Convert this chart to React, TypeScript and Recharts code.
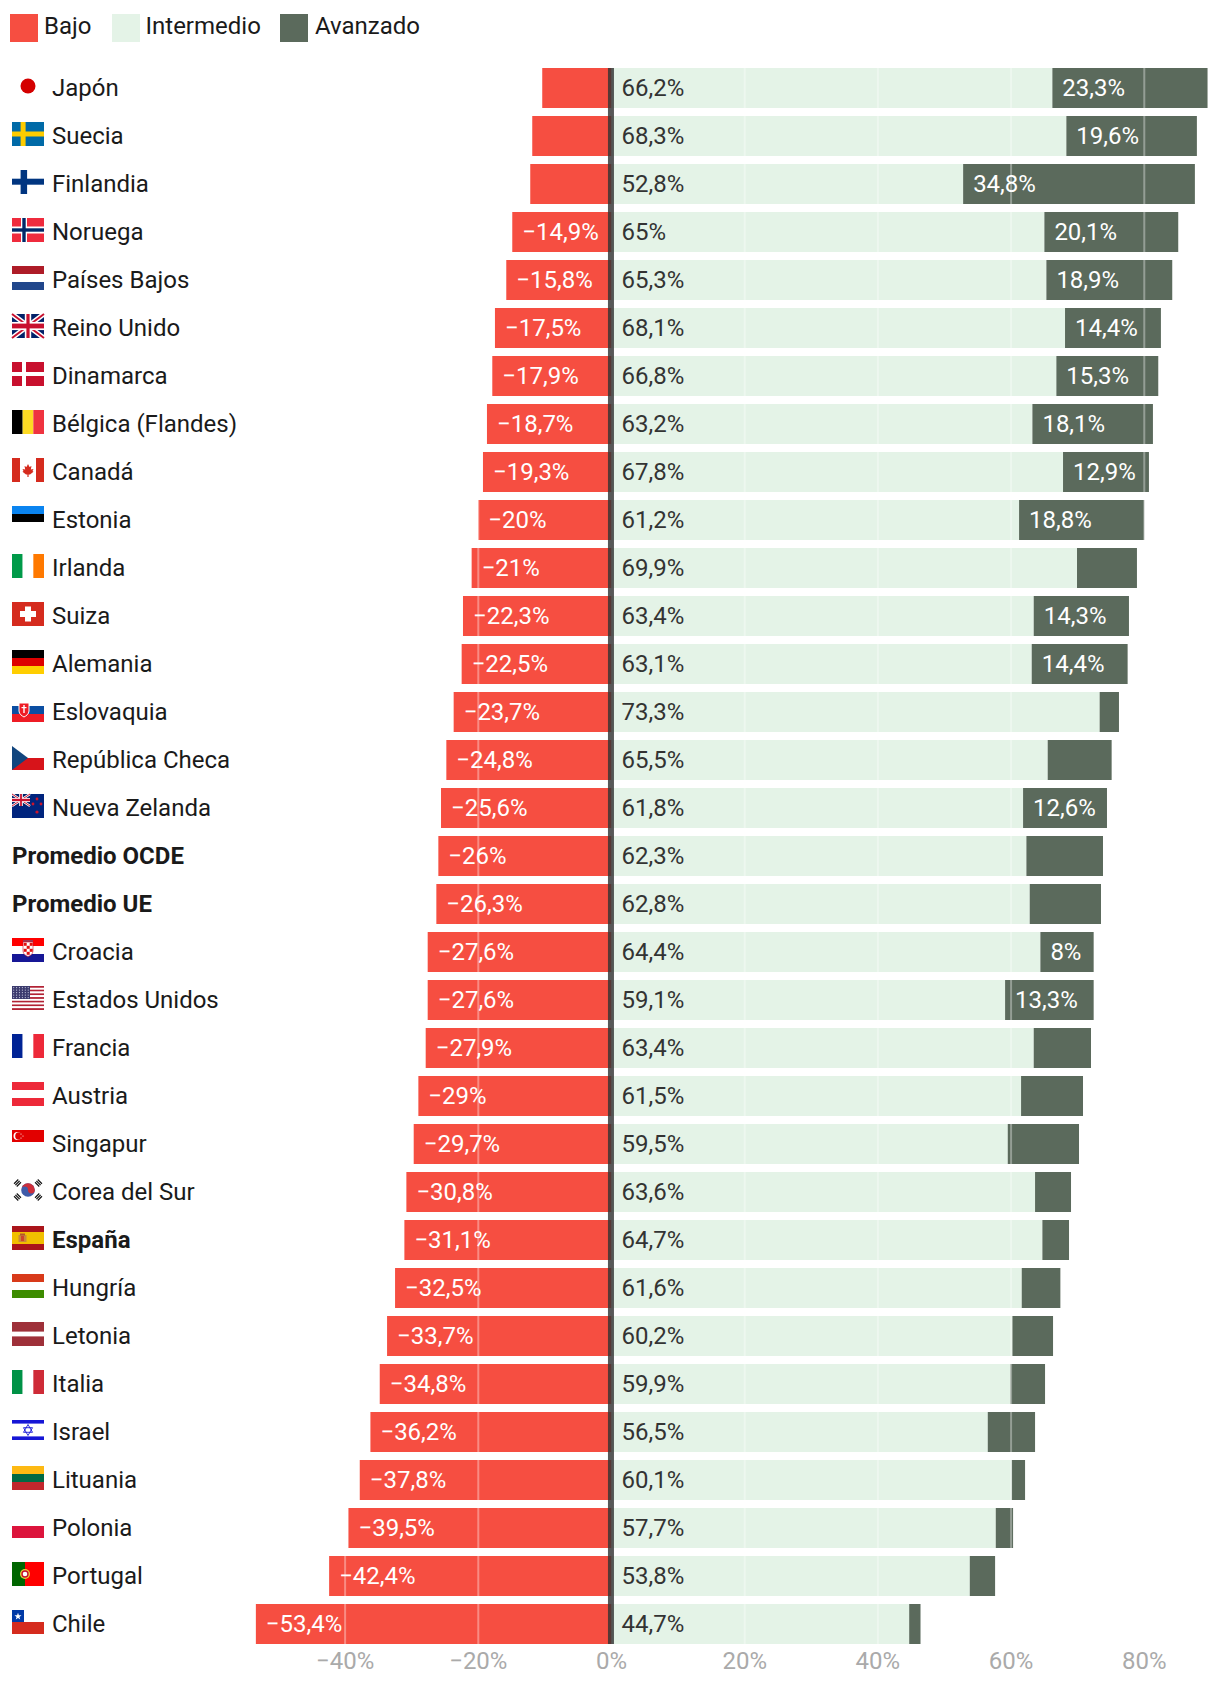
import { BarChart, Bar, XAxis, YAxis, ReferenceLine, LabelList } from "recharts";

const COUNTRIES = [
  "Japón", "Suecia", "Finlandia", "Noruega", "Países Bajos", "Reino Unido", "Dinamarca", "Bélgica (Flandes)",
  "Canadá", "Estonia", "Irlanda", "Suiza", "Alemania", "Eslovaquia", "República Checa", "Nueva Zelanda",
  "Promedio OCDE", "Promedio UE", "Croacia", "Estados Unidos", "Francia", "Austria", "Singapur", "Corea del Sur",
  "España", "Hungría", "Letonia", "Italia", "Israel", "Lituania", "Polonia", "Portugal", "Chile",
];
const BAJO = [
  -10.4, -11.9, -12.2, -14.9, -15.8, -17.5, -17.9, -18.7, -19.3, -20, -21, -22.3, -22.5, -23.7, -24.8, -25.6,
  -26, -26.3, -27.6, -27.6, -27.9, -29, -29.7, -30.8, -31.1, -32.5, -33.7, -34.8, -36.2, -37.8, -39.5, -42.4, -53.4,
];
const INTERMEDIO = [
  66.2, 68.3, 52.8, 65, 65.3, 68.1, 66.8, 63.2, 67.8, 61.2, 69.9, 63.4, 63.1, 73.3, 65.5, 61.8,
  62.3, 62.8, 64.4, 59.1, 63.4, 61.5, 59.5, 63.6, 64.7, 61.6, 60.2, 59.9, 56.5, 60.1, 57.7, 53.8, 44.7,
];
const AVANZADO = [
  23.3, 19.6, 34.8, 20.1, 18.9, 14.4, 15.3, 18.1, 12.9, 18.8, 9, 14.3, 14.4, 2.9, 9.6, 12.6,
  11.5, 10.7, 8, 13.3, 8.6, 9.3, 10.7, 5.4, 4, 5.8, 6.1, 5.2, 7.1, 2, 2.6, 3.8, 1.7,
];
// valores sin etiqueta en el original
const NO_LABEL_BAJO = ["Japón", "Suecia", "Finlandia"];
const LABELLED_AVANZADO = [
  "Japón", "Suecia", "Finlandia", "Noruega", "Países Bajos", "Reino Unido", "Dinamarca", "Bélgica (Flandes)",
  "Canadá", "Estonia", "Suiza", "Alemania", "Nueva Zelanda", "Croacia", "Estados Unidos",
];
const BOLD = ["Promedio OCDE", "Promedio UE", "España"];
const X_TICKS = [-40, -20, 0, 20, 40, 60, 80];

const RED = "#f64e41";
const GREEN = "#e4f3e7";
const DARK = "#5b6a5c";
const LEGEND = [
  { name: "Bajo", color: RED, left: 10, textLeft: 44 },
  { name: "Intermedio", color: GREEN, left: 112, textLeft: 145.5 },
  { name: "Avanzado", color: DARK, left: 280, textLeft: 315 },
];

const FONT = "Roboto, sans-serif";

const pct = (v: number) => `${String(v).replace(".", ",").replace("-", "\u2212")}%`;

const data = COUNTRIES.map((name, i) => ({
  name,
  bajo: BAJO[i],
  intermedio: INTERMEDIO[i],
  avanzado: AVANZADO[i],
  bajoLabel: NO_LABEL_BAJO.includes(name) ? null : pct(BAJO[i]),
  intermedioLabel: pct(INTERMEDIO[i]),
  avanzadoLabel: LABELLED_AVANZADO.includes(name) ? pct(AVANZADO[i]) : null,
}));

function BarLabel(props: any) {
  const { viewBox, value, textColor } = props;
  if (value == null || !viewBox) return null;
  const left = Math.min(viewBox.x, viewBox.x + viewBox.width);
  return (
    <text x={left + 10} y={viewBox.y + viewBox.height / 2} dy={8} style={{ fill: textColor }} fontSize={24} fontFamily={FONT}>
      {value}
    </text>
  );
}

const rect = (x: number, y: number, w: number, h: number, fill: string, key?: any) => (
  <rect key={key} x={x} y={y} width={w} height={h} fill={fill} />
);
const hStripes = (colors: string[]) => colors.map((c, i) => rect(0, (24 / colors.length) * i, 32, 24 / colors.length, c, i));
const vStripes = (colors: string[]) => colors.map((c, i) => rect((32 / colors.length) * i, 0, 32 / colors.length, 24, c, i));
const union = (w: number, h: number) => (
  <g>
    {rect(0, 0, w, h, "#012169")}
    <path d={`M0 0L${w} ${h}M${w} 0L0 ${h}`} stroke="#fff" strokeWidth={h / 5} />
    <path d={`M0 0L${w} ${h}M${w} 0L0 ${h}`} stroke="#c8102e" strokeWidth={h / 12} />
    {rect(w * 0.4, 0, w * 0.2, h, "#fff")}
    {rect(0, h * 0.33, w, h * 0.34, "#fff")}
    {rect(w * 0.45, 0, w * 0.1, h, "#c8102e")}
    {rect(0, h * 0.4, w, h * 0.2, "#c8102e")}
  </g>
);

const FLAGS: Record<string, () => any> = {
  "Japón": () => <circle cx={16} cy={12} r={7.5} fill="#d40000" />,
  "Suecia": () => (<>{rect(0, 0, 32, 24, "#006aa7")}{rect(8.6, 0, 5, 24, "#fecc00")}{rect(0, 9.5, 32, 5, "#fecc00")}</>),
  "Finlandia": () => (<>{rect(8.6, 0, 6.5, 24, "#003580")}{rect(0, 8.7, 32, 6, "#003580")}</>),
  "Noruega": () => (
    <>
      {rect(0, 0, 32, 24, "#ef2b3d")}
      {rect(9, 0, 6, 24, "#fff")}
      {rect(0, 8.5, 32, 7, "#fff")}
      {rect(10.3, 0, 3.4, 24, "#002868")}
      {rect(0, 10.3, 32, 3.4, "#002868")}
    </>
  ),
  "Países Bajos": () => hStripes(["#ae1c28", "#fff", "#21468b"]),
  "Reino Unido": () => union(32, 24),
  "Dinamarca": () => (<>{rect(0, 0, 32, 24, "#c8102e")}{rect(10, 0, 4, 24, "#fff")}{rect(0, 10, 32, 4, "#fff")}</>),
  "Bélgica (Flandes)": () => vStripes(["#000", "#fdda24", "#ef3340"]),
  "Canadá": () => (
    <>
      {rect(0, 0, 8, 24, "#d52b1e")}
      {rect(24, 0, 8, 24, "#d52b1e")}
      <path d="M16 6l1.500 3 2-1-.7 3.500 2.700-.5-1 2 1 .8-3.500 2.700h-1.400V19h-1.200v-2.500h-1.400L10.500 13.800l1-.8-1-2 2.700.5-.7-3.500 2 1z" fill="#d52b1e" />
    </>
  ),
  "Estonia": () => hStripes(["#0a84f0", "#000", "#fff"]),
  "Irlanda": () => vStripes(["#009a49", "#fff", "#ff7900"]),
  "Suiza": () => (<>{rect(0, 0, 32, 24, "#d52b1e")}{rect(13, 4.5, 6, 15, "#fff")}{rect(8, 9, 16, 6, "#fff")}</>),
  "Alemania": () => hStripes(["#000", "#dd0000", "#ffce00"]),
  "Eslovaquia": () => (
    <>
      {hStripes(["#fff", "#0b4ea2", "#ee1c25"])}
      <path d="M7 5h10v8c0 3-3 5-5 6-2-1-5-3-5-6z" fill="#ee1c25" stroke="#fff" strokeWidth={1} />
      {rect(11.3, 7, 1.4, 8, "#fff")}
      {rect(9.5, 9, 5, 1.2, "#fff")}
    </>
  ),
  "República Checa": () => (
    <>
      {rect(0, 12, 32, 12, "#d7141a")}
      <path d="M0 0L16 12L0 24z" fill="#11457e" />
    </>
  ),
  "Nueva Zelanda": () => (
    <>
      {rect(0, 0, 32, 24, "#00247d")}
      {union(18, 12)}
      <circle cx={25} cy={5} r={1.4} fill="#cc142b" />
      <circle cx={29} cy={10} r={1.4} fill="#cc142b" />
      <circle cx={21} cy={10} r={1.4} fill="#cc142b" />
      <circle cx={25} cy={18} r={1.6} fill="#cc142b" />
    </>
  ),
  "Croacia": () => (
    <>
      {hStripes(["#ff0000", "#fff", "#171796"])}
      <path d="M11 3.500h10v-1h-10z" fill="#3c6ea8" />
      <path d="M11 4h10v9c0 3-3 5-5 5.500-2-.5-5-2.500-5-5.500z" fill="#fff" stroke="#c8102e" strokeWidth={0.6} />
      {[0, 1, 2, 3].map((r) => [0, 1, 2].map((c) => (r + c) % 2 === 0 && rect(11.7 + c * 3, 4.8 + r * 3, 3, 3, "#e01010", `${r}-${c}`)))}
    </>
  ),
  "Estados Unidos": () => (
    <>
      {Array.from({ length: 13 }).map((_, i) => rect(0, (24 / 13) * i, 32, 24 / 13, i % 2 ? "#fff" : "#b22234", i))}
      {rect(0, 0, 18, 13, "#3c3b6e")}
      {[0, 1, 2, 3, 4].map((r) => [0, 1, 2, 3, 4, 5].map((c) => <circle key={`${r}-${c}`} cx={1.7 + c * 2.9} cy={1.6 + r * 2.5} r={0.6} fill="#c8cbe0" />))}
    </>
  ),
  "Francia": () => vStripes(["#002395", "#fff", "#ed2939"]),
  "Austria": () => hStripes(["#ed2939", "#fff", "#ed2939"]),
  "Singapur": () => (
    <>
      {rect(0, 0, 32, 12, "#e20000")}
      <circle cx={5.5} cy={6} r={4} fill="#fff" />
      <circle cx={7} cy={6} r={3.8} fill="#e20000" />
      <circle cx={9} cy={4} r={0.6} fill="#fff" />
      <circle cx={11} cy={6} r={0.6} fill="#fff" />
      <circle cx={9} cy={8} r={0.6} fill="#fff" />
    </>
  ),
  "Corea del Sur": () => (
    <>
      <circle cx={16} cy={12} r={6.8} fill="#3f5ba9" />
      <path d="M9.200 12a6.800 6.800 0 0 1 13.600 0 3.400 3.400 0 0 1-6.800 0 3.400 3.400 0 0 0-6.800 0z" fill="#cd2e3a" />
      {[[5.5, 5, -45], [26.5, 5, 45], [5.5, 19, 45], [26.5, 19, -45]].map(([x, y, r]) => (
        <g key={`${x}-${y}`} transform={`rotate(${r} ${x} ${y})`}>
          {rect(x - 3, y - 2.5, 6, 1.2, "#111")}
          {rect(x - 3, y - 0.6, 6, 1.2, "#111")}
          {rect(x - 3, y + 1.3, 6, 1.2, "#111")}
        </g>
      ))}
    </>
  ),
  "España": () => (
    <>
      {rect(0, 0, 32, 24, "#aa151b")}
      {rect(0, 6, 32, 12, "#f1bf00")}
      {rect(6.5, 9, 8, 7, "#c98a3a")}
      {rect(8, 7.5, 5, 2, "#b5562c")}
      {rect(9, 10, 3, 5, "#d0442c")}
    </>
  ),
  "Hungría": () => hStripes(["#d83a1a", "#fff", "#3d8c00"]),
  "Letonia": () => (<>{rect(0, 0, 32, 9.6, "#9e3039")}{rect(0, 14.4, 32, 9.6, "#9e3039")}</>),
  "Italia": () => vStripes(["#009246", "#fff", "#ce2b37"]),
  "Israel": () => (
    <>
      {rect(0, 2, 32, 3.6, "#1616d6")}
      {rect(0, 18.4, 32, 3.6, "#1616d6")}
      <path d="M16 6.500l4.500 7.800h-9zM16 17.500l-4.500-7.800h9z" fill="none" stroke="#1616d6" strokeWidth={0.9} />
    </>
  ),
  "Lituania": () => hStripes(["#fdb913", "#006a44", "#c1272d"]),
  "Polonia": () => rect(0, 12, 32, 12, "#dc143c"),
  "Portugal": () => (
    <>
      {rect(0, 0, 13, 24, "#006600")}
      {rect(13, 0, 19, 24, "#ff0000")}
      <circle cx={13} cy={12} r={5} fill="#e8d23a" />
      <circle cx={13} cy={12} r={3} fill="#fff" stroke="#c8102e" strokeWidth={1.4} />
    </>
  ),
  "Chile": () => (
    <>
      {rect(0, 12, 32, 12, "#d52b1e")}
      {rect(0, 0, 12, 12, "#0039a6")}
      <path d="M6 2.800l.9 2.500h2.600l-2.100 1.600.8 2.500L6 7.900 3.800 9.400l.8-2.500-2.100-1.600h2.600z" fill="#fff" />
    </>
  ),
};

function CountryTick(props: any) {
  const { y, payload } = props;
  const name = payload.value;
  const flag = FLAGS[name];
  const bold = BOLD.includes(name);
  return (
    <g>
      {flag && <g transform={`translate(12 ${y - 14})`}>{flag()}</g>}
      <text x={flag ? 52 : 12} y={y} dy={8} fill="#1a1a1a" fontSize={24} fontFamily={FONT} fontWeight={bold ? 700 : 400} textAnchor="start">
        {name}
      </text>
    </g>
  );
}

export default function App() {
  return (
    <div style={{ position: "absolute", left: 0, top: 0, width: 1220, height: 1692, background: "#fff", fontFamily: FONT }}>
      {LEGEND.map((l) => (
        <div key={l.name}>
          <span style={{ position: "absolute", left: l.left, top: 14, width: 28, height: 28, background: l.color }} />
          <span style={{ position: "absolute", left: l.textLeft, top: 11, fontSize: 24, lineHeight: "30px", color: "#1a1a1a" }}>{l.name}</span>
        </div>
      ))}
      <BarChart
        width={1220}
        height={1692}
        data={data}
        layout="vertical"
        stackOffset="sign"
        margin={{ top: 68, right: 0, bottom: 8, left: 0 }}
        style={{ position: "absolute", left: 0, top: 0 }}
      >
        <XAxis
          type="number"
          domain={[-91.67, 91.37]}
          ticks={X_TICKS}
          axisLine={false}
          tickLine={false}
          height={40}
          tick={{ fill: "#aaaaaa", fontSize: 24, fontFamily: FONT }}
          tickFormatter={(v: number) => pct(v)}
          interval={0}
        />
        <YAxis
          type="category"
          dataKey="name"
          width={1}
          axisLine={false}
          tickLine={false}
          interval={0}
          padding={{ top: -4, bottom: -4 }}
          tick={<CountryTick />}
        />
        <Bar dataKey="bajo" stackId="a" fill={RED} barSize={40} isAnimationActive={false}>
          <LabelList dataKey="bajoLabel" content={<BarLabel textColor="#ffffff" />} />
        </Bar>
        <Bar dataKey="intermedio" stackId="a" fill={GREEN} barSize={40} isAnimationActive={false}>
          <LabelList dataKey="intermedioLabel" content={<BarLabel textColor="#333333" />} />
        </Bar>
        <Bar dataKey="avanzado" stackId="a" fill={DARK} barSize={40} isAnimationActive={false}>
          <LabelList dataKey="avanzadoLabel" content={<BarLabel textColor="#ffffff" />} />
        </Bar>
        {X_TICKS.filter((t) => t !== 0).map((t) => (
          <ReferenceLine key={t} x={t} stroke="#ffffff" strokeOpacity={0.35} strokeWidth={2} />
        ))}
        <ReferenceLine x={-0.08} stroke="#333333" strokeOpacity={0.82} strokeWidth={6} />
      </BarChart>
    </div>
  );
}
